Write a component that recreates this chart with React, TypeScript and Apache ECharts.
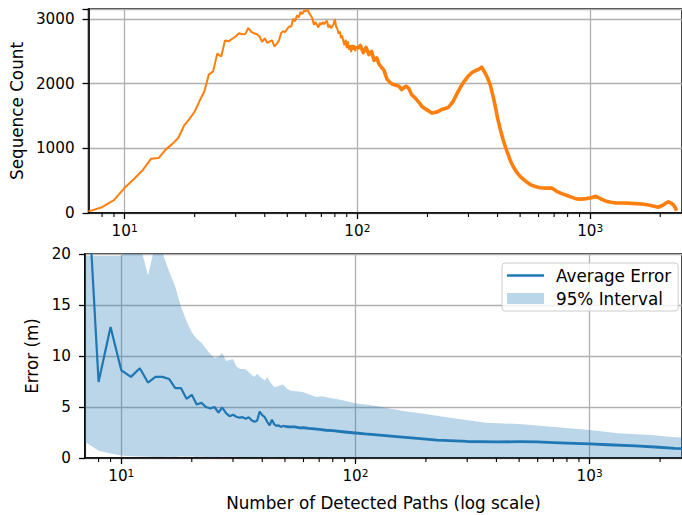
import React, { useEffect, useRef } from "react";
import * as echarts from "echarts";

// ---- Sequence count per number of detected paths (top panel) ----
const countPaths = [
  7, 8, 9, 10, 11, 12, 13, 14, 15, 16, 17, 18, 19, 20, 21, 22, 23, 24, 25, 26, 27, 28, 29, 30,
  31, 32, 33, 34, 35, 36, 37, 38, 39, 40, 41, 42, 43, 44, 45, 46, 47, 48, 49, 50, 51, 52, 53,
  54, 55, 56, 57, 58, 59, 60, 61, 62, 63, 64, 65, 66, 67, 68, 69, 70, 71, 72, 73, 74, 75, 76,
  77, 78, 79, 80, 81, 82, 83, 84, 85, 86, 87, 88, 89, 90, 91, 92, 93, 94, 95, 96, 97, 98, 99,
  100, 103, 106, 109, 112, 115, 118, 121, 124, 127, 130, 134, 138, 141, 145, 151, 155, 158,
  162, 166, 169, 172, 176, 180, 185, 189, 194, 199, 204, 209, 214, 219, 225, 230, 238, 246,
  252, 258, 264, 271, 278, 284, 291, 298, 306, 313, 321, 329, 336, 342, 349, 357, 365, 372,
  380, 387, 394, 400, 407, 413, 423, 434, 445, 455, 470, 486, 502, 519, 536, 553, 580, 610,
  645, 684, 718, 755, 791, 830, 873, 915, 962, 1010, 1060, 1110, 1169, 1230, 1289, 1370, 1467,
  1570, 1671, 1780, 1880, 1966, 2050, 2120, 2167, 2220, 2276, 2320, 2351,
];
const countValues = [
  25, 90, 200, 390, 530, 670, 840, 850, 980, 1065, 1160, 1350, 1455, 1570, 1735, 1880, 2140,
  2190, 2465, 2420, 2670, 2655, 2695, 2730, 2780, 2765, 2770, 2860, 2800, 2780, 2765, 2730,
  2645, 2705, 2630, 2655, 2670, 2575, 2615, 2665, 2785, 2810, 2800, 2850, 2885, 2885, 3005,
  2965, 3055, 3025, 3110, 3075, 3130, 3120, 3150, 3090, 3055, 3015, 2910, 2955, 2910, 2870,
  2940, 2910, 2955, 2920, 2955, 2975, 2870, 2910, 2860, 2885, 2920, 3000, 2885, 2850, 2770,
  2810, 2705, 2745, 2655, 2595, 2680, 2550, 2655, 2525, 2595, 2490, 2600, 2525, 2595, 2500,
  2575, 2540, 2590, 2480, 2560, 2450, 2500, 2360, 2400, 2300, 2250, 2210, 2070, 2020, 1995,
  1980, 1960, 1910, 1935, 1960, 1930, 1870, 1820, 1790, 1750, 1700, 1650, 1620, 1595, 1570,
  1545, 1555, 1560, 1580, 1600, 1615, 1635, 1680, 1730, 1800, 1880, 1950, 2010, 2060, 2110,
  2150, 2180, 2200, 2215, 2235, 2255, 2200, 2140, 2060, 1985, 1850, 1730, 1590, 1470, 1360,
  1265, 1130, 1005, 900, 800, 700, 620, 560, 515, 475, 440, 410, 390, 385, 385, 335, 300, 275,
  245, 218, 215, 222, 235, 258, 220, 182, 165, 155, 155, 152, 145, 139, 125, 105, 90, 120, 155,
  172, 155, 128, 80, 36,
];
// Beyond this many paths the per-count samples are dense, drawn heavier
const denseFrom = 100;

// ---- Localisation error per number of detected paths (bottom panel) ----
const errPaths = [
  7, 8, 9, 10, 11, 12, 13, 14, 15, 16, 17, 18, 19, 20, 21, 22, 23, 24, 25, 26, 27, 28, 29, 30,
  31, 32, 33, 34, 35, 36, 37, 38, 39, 40, 41, 42, 43, 44, 45, 46, 47, 48, 49, 50, 52, 55, 58,
  60, 63, 65, 70, 75, 80, 90, 100, 110, 120, 150, 200, 223, 300, 400, 500, 600, 700, 800, 1000,
  1200, 1567, 1900, 2312, 2480,
];
const errMean = [
  31.5, 7.45, 12.85, 8.6, 7.95, 8.8, 7.4, 7.95, 7.95, 7.75, 6.85, 6.85, 5.8, 6.2, 5.25, 5.4,
  5.0, 4.85, 5.0, 4.45, 4.95, 4.4, 4.1, 4.25, 4.05, 3.95, 4.0, 3.85, 4.0, 3.7, 3.55, 3.65, 4.55,
  4.2, 4.0, 3.55, 3.2, 3.75, 3.3, 3.15, 3.2, 3.05, 3.15, 3.1, 3.05, 3.05, 2.95, 2.97, 2.9, 2.88,
  2.8, 2.72, 2.68, 2.55, 2.45, 2.36, 2.3, 2.1, 1.85, 1.76, 1.62, 1.58, 1.6, 1.58, 1.5, 1.45,
  1.38, 1.3, 1.18, 1.08, 0.95, 0.92,
];
// From here on the error samples are dense, drawn slightly heavier
const errDenseFrom = 50;

// 95% interval of the error
const bandPaths = [
  7, 8, 9, 10, 11, 12, 13, 14, 15, 16, 17, 18, 19, 20, 21, 22, 23, 24, 25, 26, 27, 28, 29, 30,
  31, 32, 34, 35, 37, 38, 39, 41, 42, 43, 45, 47, 49, 51, 53, 56, 60, 64, 68, 72, 78, 84, 88,
  95, 101, 115, 130, 136, 160, 189, 262, 362, 501, 689, 1000, 1329, 1838, 2312, 2480,
];
const bandLow = [
  1.6, 0.7, 0.45, 0.25, 0.18, 0.15, 0.12, 0.1, 0.1, 0.12, 0.1, 0.14, 0.12, 0.15, 0.1, 0.12,
  0.1, 0.08, 0.08, 0.1, 0.12, 0.1, 0.08, 0.12, 0.1, 0.08, 0.1, 0.08, 0.1, 0.08, 0.08, 0.1, 0.08,
  0.06, 0.08, 0.1, 0.08, 0.1, 0.06, 0.08, 0.06, 0.07, 0.06, 0.08, 0.06, 0.07, 0.06, 0.08, 0.08,
  0.06, 0.05, 0.05, 0.06, 0.05, 0.05, 0.05, 0.05, 0.05, 0.05, 0.05, 0.05, 0.05, 0.05,
];
const bandHigh = [
  19.8, 19.8, 19.8, 19.8, 21, 21, 17.9, 21, 20.1, 18.3, 16.8, 14.8, 13.4, 12.3, 11.7, 11.3,
  10.7, 10.2, 9.8, 9.9, 10.3, 9.5, 9.6, 9.7, 9.0, 8.75, 8.7, 8.4, 7.95, 8.25, 8.0, 7.6, 7.95,
  7.5, 6.95, 7.05, 7.2, 6.8, 6.6, 6.55, 6.45, 6.2, 5.98, 6.05, 5.88, 5.75, 5.65, 5.5, 5.35, 5.2,
  5.0, 4.9, 4.6, 4.38, 3.9, 3.46, 3.33, 3.07, 2.74, 2.42, 2.25, 2.03, 2.0,
];

// Minor tick positions on the log axes
const minorTicks = [8, 9, 20, 30, 40, 50, 60, 70, 80, 90, 200, 300, 400, 500, 600, 700, 800, 900, 2000];

const countTicks = [0, 1000, 2000, 3000];
const errorTicks = [0, 5, 10, 15, 20];

const FONT = "DejaVu Sans";
const TICK_SIZE = 15.2;
const LABEL_SIZE = 16.8;
const ORANGE = "#ff7f0e";
const BLUE = "#1f77b4";
const BAND_FILL = "rgba(31,119,180,0.3)";
const BAND_SWATCH = "#bcd6e9";
const GRID_GRAY = "#b0b0b0";

const zip = (xs: number[], ys: number[]) => xs.map((x, i) => [x, ys[i]]);

function powerLabel(v: number): string {
  const e = Math.log10(v);
  const r = Math.round(e);
  if (Math.abs(e - r) > 1e-6) return "";
  return `{b|10}{s|${r}}`;
}

function logXAxis(gridIndex: number, withName: boolean) {
  return {
    type: "log",
    logBase: 10,
    gridIndex,
    min: 7,
    max: 2480,
    name: withName ? "Number of Detected Paths (log scale)" : "",
    nameLocation: "middle",
    nameGap: 36,
    nameTextStyle: { fontFamily: FONT, fontSize: LABEL_SIZE, color: "#000" },
    axisLine: { show: true, lineStyle: { color: "#000", width: 1.6 } },
    axisTick: { show: true, length: 6, lineStyle: { color: "#000", width: 1.3 } },
    axisLabel: {
      formatter: powerLabel,
      margin: 9,
      showMinLabel: false,
      showMaxLabel: false,
      rich: {
        b: { fontFamily: FONT, fontSize: TICK_SIZE, color: "#000", lineHeight: 18, verticalAlign: "middle" },
        s: { fontFamily: FONT, fontSize: 10.6, color: "#000", verticalAlign: "top" },
      },
    },
    splitLine: { show: true, lineStyle: { color: GRID_GRAY, width: 1.3 } },
    minorTick: { show: false },
  };
}

function valueYAxis(gridIndex: number, max: number, interval: number, ticks: number[], name: string, nameGap: number) {
  return {
    type: "value",
    gridIndex,
    min: 0,
    max,
    interval,
    name,
    nameLocation: "middle",
    nameGap,
    nameTextStyle: { fontFamily: FONT, fontSize: LABEL_SIZE, color: "#000" },
    axisLine: { show: true, lineStyle: { color: "#000", width: 1.6 } },
    axisTick: { show: true, length: 6, lineStyle: { color: "#000", width: 1.3 } },
    axisLabel: {
      fontFamily: FONT,
      fontSize: TICK_SIZE,
      color: "#000",
      margin: 14,
      formatter: (v: number) => (ticks.includes(v) ? String(v) : ""),
    },
    splitLine: { show: true, lineStyle: { color: GRID_GRAY, width: 1.3 } },
  };
}

function minorTickSeries(axisIndex: number) {
  return {
    type: "custom",
    xAxisIndex: axisIndex,
    yAxisIndex: axisIndex,
    silent: true,
    clip: false,
    data: minorTicks.map((t) => [t, 0]),
    renderItem: (_params: any, api: any) => {
      const p = api.coord([api.value(0), api.value(1)]);
      return {
        type: "line",
        shape: { x1: p[0], y1: p[1], x2: p[0], y2: p[1] + 4 },
        style: { stroke: "#000", lineWidth: 1.1 },
      };
    },
  };
}

export default function App() {
  const ref = useRef<HTMLDivElement>(null);

  useEffect(() => {
    if (!ref.current) return;
    const chart = echarts.init(ref.current, undefined, { renderer: "svg" });

    const split = countPaths.indexOf(denseFrom);
    const countAll = zip(countPaths, countValues);
    const errSplit = errPaths.indexOf(errDenseFrom);
    const errAll = zip(errPaths, errMean);

    const option = {
      animation: false,
      backgroundColor: "#ffffff",
      textStyle: { fontFamily: FONT },
      grid: [
        { left: 85, top: 9, width: 603, height: 204, show: true, borderColor: "#000", borderWidth: 1.6, backgroundColor: "transparent", containLabel: false },
        { left: 85, top: 254, width: 603, height: 204, show: true, borderColor: "#000", borderWidth: 1.6, backgroundColor: "transparent", containLabel: false },
      ],
      xAxis: [logXAxis(0, false), logXAxis(1, true)],
      yAxis: [
        valueYAxis(0, 3155, 1000, countTicks, "Sequence Count", 62),
        valueYAxis(1, 20, 5, errorTicks, "Error (m)", 41),
      ],
      legend: {
        orient: "vertical",
        left: 502,
        top: 263,
        padding: [4, 7, 4, 5],
        itemGap: 6,
        itemWidth: 37,
        itemHeight: 11,
        backgroundColor: "rgba(255,255,255,0.8)",
        borderColor: "#cccccc",
        borderWidth: 1,
        borderRadius: 3,
        textStyle: { fontFamily: FONT, fontSize: LABEL_SIZE, color: "#000", padding: [0, 0, 0, 7] },
        data: [
          { name: "Average Error", icon: "path://M0 0H37V2.4H0Z", itemStyle: { color: BLUE, borderWidth: 0 } },
          { name: "95% Interval", icon: "rect", itemStyle: { color: BAND_SWATCH, borderWidth: 0 } },
        ],
      },
      series: [
        {
          type: "line",
          name: "Sequence Count",
          xAxisIndex: 0,
          yAxisIndex: 0,
          data: countAll.slice(0, split + 1),
          symbol: "none",
          lineStyle: { color: ORANGE, width: 2 },
          itemStyle: { color: ORANGE },
          clip: true,
        },
        {
          type: "line",
          name: "Sequence Count",
          xAxisIndex: 0,
          yAxisIndex: 0,
          data: countAll.slice(split),
          symbol: "none",
          lineStyle: { color: ORANGE, width: 3.6, join: "round" },
          itemStyle: { color: ORANGE },
          clip: true,
        },
        {
          // filled band between the lower and upper interval bounds
          type: "custom",
          name: "95% Interval",
          xAxisIndex: 1,
          yAxisIndex: 1,
          silent: true,
          itemStyle: { color: BAND_SWATCH },
          data: [[bandPaths[0], bandLow[0]]],
          renderItem: (params: any, api: any) => {
            const upper = bandPaths.map((x, i) => api.coord([x, bandHigh[i]]));
            const lower = bandPaths.map((x, i) => api.coord([x, bandLow[i]])).reverse();
            const cs = params.coordSys;
            return {
              type: "polygon",
              shape: { points: upper.concat(lower) },
              style: { fill: BAND_FILL, stroke: "none" },
              clipPath: { type: "rect", shape: { x: cs.x, y: cs.y, width: cs.width, height: cs.height } },
            };
          },
        },
        {
          type: "line",
          name: "Average Error",
          xAxisIndex: 1,
          yAxisIndex: 1,
          data: errAll.slice(0, errSplit + 1),
          symbol: "none",
          showSymbol: false,
          lineStyle: { color: BLUE, width: 2.2 },
          itemStyle: { color: BLUE },
          clip: true,
        },
        {
          type: "line",
          name: "Average Error",
          xAxisIndex: 1,
          yAxisIndex: 1,
          data: errAll.slice(errSplit),
          symbol: "none",
          showSymbol: false,
          lineStyle: { color: BLUE, width: 2.8, join: "round" },
          itemStyle: { color: BLUE },
          clip: true,
        },
        minorTickSeries(0),
        minorTickSeries(1),
      ],
    };

    chart.setOption(option as any);
    return () => chart.dispose();
  }, []);

  return (
    <div
      ref={ref}
      style={{ position: "absolute", left: 0, top: 0, width: 682, height: 515, overflow: "hidden" }}
    />
  );
}
